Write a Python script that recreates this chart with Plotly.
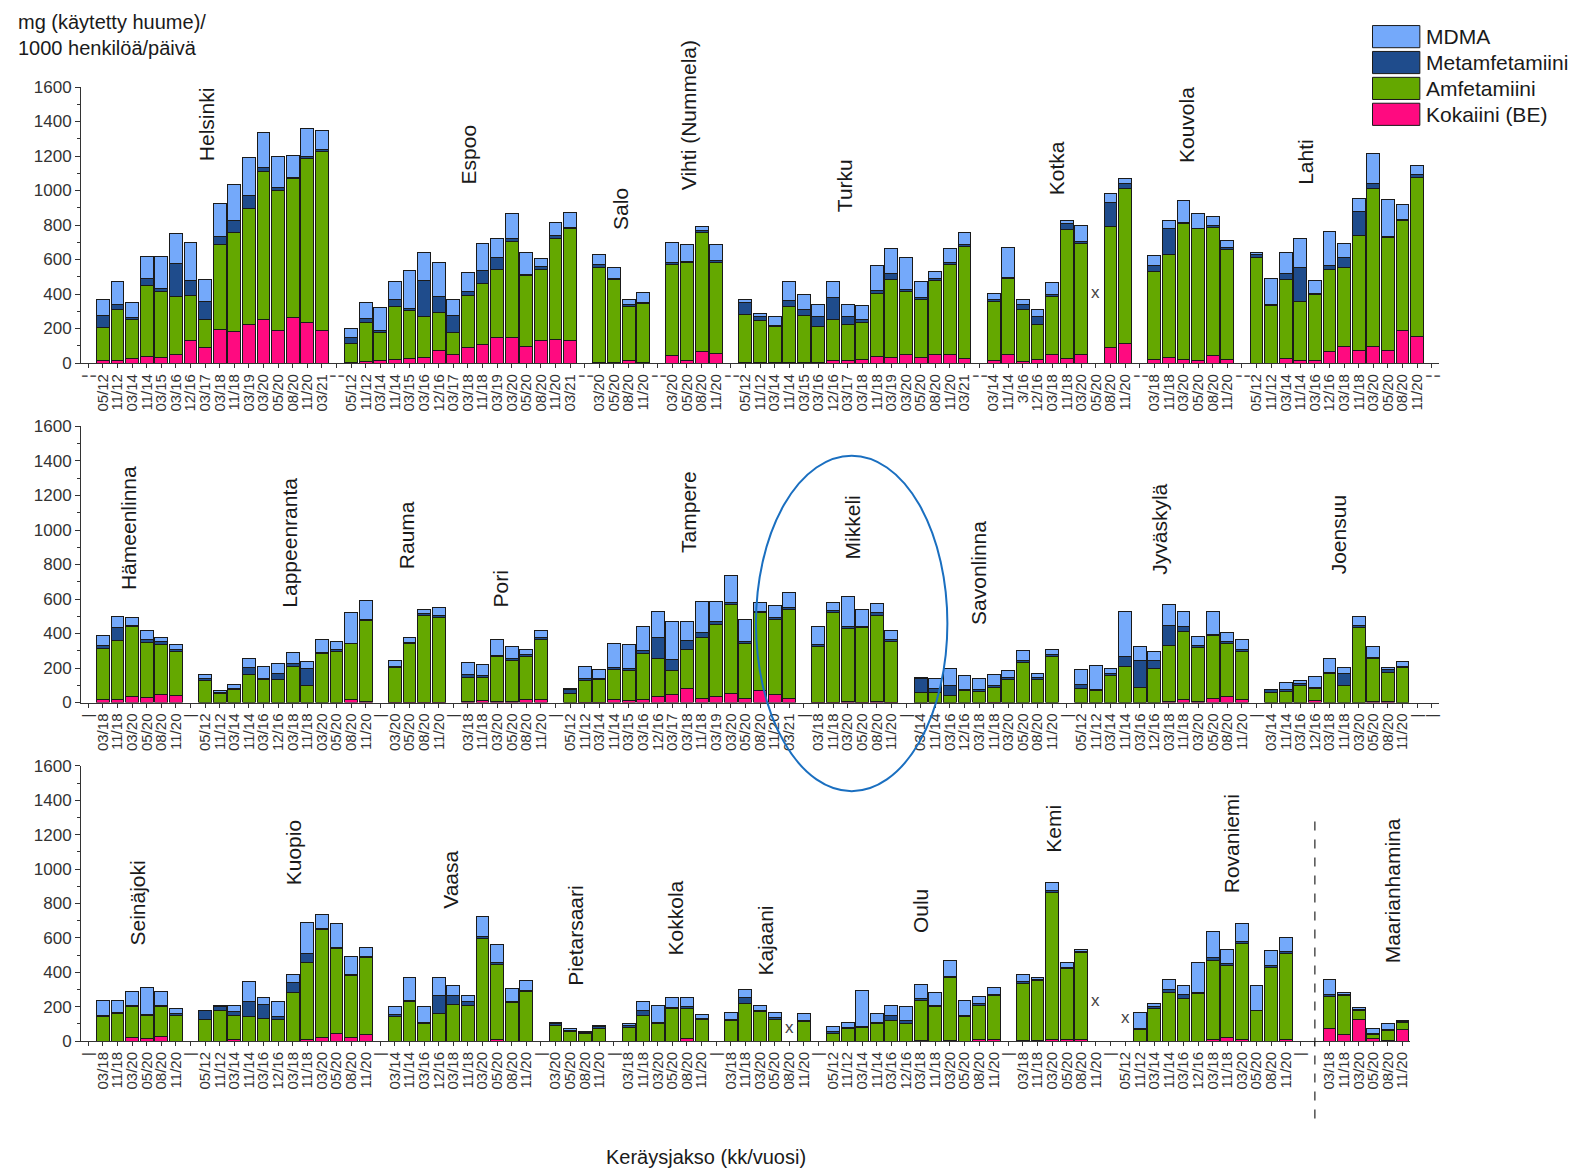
import plotly.graph_objects as go

# ---------------- period label sets ----------------
P16 = ["05/12", "11/12", "03/14", "11/14", "03/15", "03/16", "12/16", "03/17",
       "03/18", "11/18", "03/19", "03/20", "05/20", "08/20", "11/20", "03/21"]
P12 = ["05/12", "11/12", "03/14", "11/14", "03/16", "12/16", "03/18", "11/18",
       "03/20", "05/20", "08/20", "11/20"]
P10 = ["03/14", "11/14", "03/16", "12/16", "03/18", "11/18", "03/20", "05/20", "08/20", "11/20"]
P10_KOTKA = ["03/14", "11/14", "3/16", "12/16", "03/18", "11/18", "03/20", "05/20", "08/20", "11/20"]
P6 = ["03/18", "11/18", "03/20", "05/20", "08/20", "11/20"]
P4 = ["03/20", "05/20", "08/20", "11/20"]

# ---------------- values (mg / 1000 persons / day) ----------------
# Row 1
helsinki_kok = [15, 15, 25, 35, 30, 50, 130, 90, 195, 180, 225, 255, 190, 265, 235, 187]
helsinki_amf = [190, 295, 230, 415, 385, 335, 260, 160, 490, 577, 668, 855, 810, 805, 950, 1040]
helsinki_met = [70, 30, 10, 40, 15, 190, 90, 105, 50, 68, 77, 25, 20, 8, 12, 12]
helsinki_mdma = [95, 135, 85, 130, 190, 175, 220, 130, 190, 212, 224, 200, 180, 125, 162, 110]

espoo_kok = [5, 8, 17, 23, 27, 33, 71, 52, 91, 110, 149, 149, 95, 129, 135, 129]
espoo_amf = [110, 228, 161, 303, 276, 236, 223, 126, 299, 352, 396, 556, 411, 416, 589, 648]
espoo_met = [33, 25, 9, 45, 14, 208, 92, 96, 23, 77, 67, 14, 10, 13, 14, 9]
espoo_mdma = [52, 91, 136, 102, 222, 163, 197, 97, 109, 151, 112, 145, 122, 49, 77, 87]

salo_kok = [4, 4, 12, 4]
salo_amf = [547, 479, 315, 342]
salo_met = [19, 9, 15, 4]
salo_mdma = [59, 59, 24, 59]

vihti_kok = [45, 16, 64, 54]
vihti_amf = [529, 568, 695, 530]
vihti_met = [10, 6, 12, 11]
vihti_mdma = [116, 97, 19, 92]

turku_kok = [2, 2, 2, 4, 4, 2, 14, 14, 23, 39, 33, 48, 33, 52, 48, 29]
turku_amf = [282, 245, 207, 321, 270, 207, 241, 212, 213, 363, 454, 367, 334, 425, 526, 647]
turku_met = [68, 20, 7, 36, 35, 58, 122, 44, 19, 19, 31, 14, 14, 12, 9, 12]
turku_mdma = [15, 23, 54, 112, 91, 71, 96, 68, 77, 143, 145, 180, 89, 42, 80, 69]

kotka_kok = [14, 48, 10, 23, 48, 29, 48, None, 91, 116]
kotka_amf = [343, 441, 300, 203, 338, 744, 647, None, 701, 893]
kotka_met = [10, 9, 30, 41, 14, 38, 10, None, 139, 34]
kotka_mdma = [35, 172, 30, 46, 69, 14, 91, None, 54, 27]

kouvola_kok = [23, 33, 23, 14, 43, 19]
kouvola_amf = [508, 595, 785, 763, 743, 639]
kouvola_met = [33, 154, 7, 5, 12, 10]
kouvola_mdma = [58, 43, 128, 87, 52, 44]

lahti_kok = [0, 0, 29, 16, 16, 68, 97, 74, 97, 70, 187, 152]
lahti_amf = [609, 331, 457, 340, 379, 473, 454, 665, 915, 656, 640, 924]
lahti_met = [23, 6, 32, 195, 10, 23, 62, 137, 31, 6, 6, 14]
lahti_mdma = [6, 155, 120, 171, 72, 197, 78, 79, 169, 214, 84, 54]

# Row 2
hameenlinna_kok = [15, 15, 35, 31, 45, 41]
hameenlinna_amf = [301, 345, 403, 319, 290, 255]
hameenlinna_met = [13, 72, 9, 14, 19, 14]
hameenlinna_mdma = [58, 68, 43, 52, 24, 25]

lappeenranta_kok = [0, 0, 0, 0, 0, 0, 0, 0, 0, 0, 15, 6]
lappeenranta_amf = [126, 50, 74, 165, 132, 136, 209, 99, 287, 296, 326, 469]
lappeenranta_met = [11, 8, 9, 38, 5, 34, 16, 101, 5, 10, 4, 5]
lappeenranta_mdma = [24, 12, 20, 55, 72, 59, 67, 38, 72, 48, 174, 111]

rauma_kok = [3, 3, 3, 3]
rauma_amf = [202, 338, 501, 487]
rauma_met = [4, 8, 11, 14]
rauma_mdma = [35, 25, 23, 44]

pori_kok = [4, 10, 6, 4, 19, 15]
pori_amf = [141, 137, 261, 240, 248, 349]
pori_met = [16, 10, 6, 10, 10, 10]
pori_mdma = [71, 62, 91, 68, 29, 44]

tampere_kok = [0, 3, 3, 15, 12, 15, 35, 45, 83, 25, 35, 50, 25, 70, 45, 25]
tampere_amf = [50, 123, 133, 179, 174, 272, 223, 139, 223, 353, 416, 518, 320, 449, 439, 513]
tampere_met = [24, 11, 5, 9, 10, 13, 120, 64, 52, 25, 20, 9, 6, 8, 10, 10]
tampere_mdma = [9, 72, 49, 138, 139, 142, 147, 223, 113, 180, 112, 159, 133, 50, 70, 87]

mikkeli_kok = [2, 2, 5, 2, 6, 2]
mikkeli_amf = [320, 517, 423, 434, 498, 349]
mikkeli_met = [17, 16, 10, 6, 19, 13]
mikkeli_mdma = [99, 46, 178, 96, 50, 52]

savonlinna_kok = [0, 0, 0, 0, 0, 3, 0, 0, 0, 0]
savonlinna_amf = [60, 58, 41, 70, 64, 84, 136, 234, 136, 267]
savonlinna_met = [80, 25, 56, 7, 10, 12, 9, 10, 9, 10]
savonlinna_mdma = [3, 58, 103, 78, 64, 66, 39, 58, 22, 29]

jyvaskyla_kok = [0, 0, 0, 0, 0, 0, 5, 15, 6, 25, 35, 15]
jyvaskyla_amf = [79, 70, 157, 209, 87, 200, 326, 398, 314, 364, 306, 281]
jyvaskyla_met = [28, 4, 13, 58, 155, 44, 114, 29, 9, 8, 10, 14]
jyvaskyla_mdma = [87, 139, 30, 258, 80, 52, 123, 87, 51, 128, 56, 54]

joensuu_kok = [0, 0, 0, 12, 0, 0, 0, 4, 6, 0]
joensuu_amf = [60, 64, 97, 67, 167, 99, 436, 254, 170, 203]
joensuu_met = [14, 10, 11, 8, 9, 68, 9, 5, 18, 6]
joensuu_mdma = [3, 44, 20, 64, 82, 36, 55, 59, 9, 29]

# Row 3
seinajoki_kok = [0, 0, 19, 12, 25, 0]
seinajoki_amf = [141, 161, 181, 139, 175, 151]
seinajoki_met = [6, 6, 5, 6, 9, 10]
seinajoki_mdma = [87, 71, 82, 155, 78, 29]

kuopio_kok = [0, 0, 10, 0, 0, 0, 0, 10, 19, 45, 19, 39]
kuopio_amf = [128, 176, 141, 141, 132, 126, 281, 445, 630, 493, 361, 445]
kuopio_met = [48, 24, 19, 91, 83, 19, 60, 54, 6, 6, 4, 6]
kuopio_mdma = [4, 9, 35, 117, 39, 84, 46, 181, 83, 140, 110, 54]

vaasa_kok = [0, 0, 0, 0, 0, 0, 0, 10, 0, 0]
vaasa_amf = [141, 229, 103, 161, 215, 205, 597, 437, 223, 287]
vaasa_met = [16, 9, 5, 106, 48, 24, 9, 10, 9, 9]
vaasa_mdma = [43, 132, 92, 103, 57, 38, 120, 105, 74, 55]

pietarsaari_kok = [0, 0, 0, 0]
pietarsaari_amf = [89, 54, 45, 70]
pietarsaari_met = [10, 10, 3, 13]
pietarsaari_mdma = [9, 6, 6, 6]

kokkola_kok = [0, 0, 0, 0, 12, 0]
kokkola_amf = [77, 151, 103, 190, 178, 126]
kokkola_met = [16, 25, 5, 6, 10, 6]
kokkola_mdma = [10, 53, 101, 56, 52, 23]

kajaani_kok = [0, 0, 0, 0, None, 0]
kajaani_amf = [118, 219, 170, 126, None, 116]
kajaani_met = [10, 33, 10, 10, None, 6]
kajaani_mdma = [37, 50, 29, 31, None, 39]

oulu_kok = [0, 0, 0, 0, 0, 0, 5, 0, 5, 0, 8, 8]
oulu_amf = [45, 74, 77, 99, 118, 99, 233, 200, 363, 145, 201, 255]
oulu_met = [9, 5, 10, 9, 33, 23, 10, 5, 6, 6, 10, 10]
oulu_mdma = [33, 28, 204, 53, 58, 78, 81, 78, 93, 87, 39, 39]

kemi_kok = [5, 5, 10, 10, 8, None]
kemi_amf = [330, 345, 855, 410, 507, None]
kemi_met = [10, 8, 10, 10, 5, None]
kemi_mdma = [39, 12, 45, 25, 10, None]

rovaniemi_kok = [None, 0, 0, 0, 0, 0, 10, 20, 10, 0, 0, 8]
rovaniemi_amf = [None, 65, 190, 285, 250, 275, 460, 420, 555, 175, 430, 500]
rovaniemi_met = [None, 5, 8, 15, 20, 10, 15, 10, 15, 5, 10, 10]
rovaniemi_mdma = [None, 95, 20, 55, 50, 170, 150, 80, 105, 140, 85, 85]

maarianhamina_kok = [75, 40, 125, 15, 5, 65]
maarianhamina_amf = [185, 225, 55, 25, 55, 45]
maarianhamina_met = [10, 5, 5, 5, 5, 5]
maarianhamina_mdma = [85, 15, 10, 30, 35, 5]

# ---------------- structure ----------------
ROW1 = [("Helsinki", P16, helsinki_kok, helsinki_amf, helsinki_met, helsinki_mdma),
        ("Espoo", P16, espoo_kok, espoo_amf, espoo_met, espoo_mdma),
        ("Salo", P4, salo_kok, salo_amf, salo_met, salo_mdma),
        ("Vihti (Nummela)", P4, vihti_kok, vihti_amf, vihti_met, vihti_mdma),
        ("Turku", P16, turku_kok, turku_amf, turku_met, turku_mdma),
        ("Kotka", P10_KOTKA, kotka_kok, kotka_amf, kotka_met, kotka_mdma),
        ("Kouvola", P6, kouvola_kok, kouvola_amf, kouvola_met, kouvola_mdma),
        ("Lahti", P12, lahti_kok, lahti_amf, lahti_met, lahti_mdma)]
ROW2 = [("Hämeenlinna", P6, hameenlinna_kok, hameenlinna_amf, hameenlinna_met, hameenlinna_mdma),
        ("Lappeenranta", P12, lappeenranta_kok, lappeenranta_amf, lappeenranta_met, lappeenranta_mdma),
        ("Rauma", P4, rauma_kok, rauma_amf, rauma_met, rauma_mdma),
        ("Pori", P6, pori_kok, pori_amf, pori_met, pori_mdma),
        ("Tampere", P16, tampere_kok, tampere_amf, tampere_met, tampere_mdma),
        ("Mikkeli", P6, mikkeli_kok, mikkeli_amf, mikkeli_met, mikkeli_mdma),
        ("Savonlinna", P10, savonlinna_kok, savonlinna_amf, savonlinna_met, savonlinna_mdma),
        ("Jyväskylä", P12, jyvaskyla_kok, jyvaskyla_amf, jyvaskyla_met, jyvaskyla_mdma),
        ("Joensuu", P10, joensuu_kok, joensuu_amf, joensuu_met, joensuu_mdma)]
ROW3 = [("Seinäjoki", P6, seinajoki_kok, seinajoki_amf, seinajoki_met, seinajoki_mdma),
        ("Kuopio", P12, kuopio_kok, kuopio_amf, kuopio_met, kuopio_mdma),
        ("Vaasa", P10, vaasa_kok, vaasa_amf, vaasa_met, vaasa_mdma),
        ("Pietarsaari", P4, pietarsaari_kok, pietarsaari_amf, pietarsaari_met, pietarsaari_mdma),
        ("Kokkola", P6, kokkola_kok, kokkola_amf, kokkola_met, kokkola_mdma),
        ("Kajaani", P6, kajaani_kok, kajaani_amf, kajaani_met, kajaani_mdma),
        ("Oulu", P12, oulu_kok, oulu_amf, oulu_met, oulu_mdma),
        ("Kemi", P6, kemi_kok, kemi_amf, kemi_met, kemi_mdma),
        ("Rovaniemi", P12, rovaniemi_kok, rovaniemi_amf, rovaniemi_met, rovaniemi_mdma),
        ("Maarianhamina", P6, maarianhamina_kok, maarianhamina_amf, maarianhamina_met, maarianhamina_mdma)]

SERIES = ["Kokaiini (BE)", "Amfetamiini", "Metamfetamiini", "MDMA"]
COLORS = {"Kokaiini (BE)": "#ff0a80", "Amfetamiini": "#64a800",
          "Metamfetamiini": "#1f4c8c", "MDMA": "#74a9fa"}

# city label layout (x in slot units, bottom of text in data units)
LABELS = [
    [8.1, 26.05, 36.4, 41.1, 51.8, 66.3, 75.2, 83.4],
    [2.74, 13.8, 21.8, 28.2, 41.1, 52.3, 61.0, 73.3, 85.6],
    [3.36, 14.05, 24.8, 33.4, 40.2, 46.4, 57.0, 66.1, 78.3, 89.3],
]
LABEL_Y = [
    [1156, 1022, 759, 993, 864, 963, 1150, 1022],
    [642, 537, 759, 537, 858, 818, 438, 730, 730],
    [543, 894, 760, 310, 485, 368, 614, 1081, 849, 439],
]
MISSING_Y = {"Kotka": 409, "Kajaani": 76, "Kemi": 234, "Rovaniemi": 134}


def build_row(r, groups, sep_label, trailing, before_last=0):
    cats, texts = [], []
    vals = {s: [] for s in SERIES}
    missing = []
    n = 0
    for gi, (city, periods, kok, amf, met, mdma) in enumerate(groups):
        nsep = 1 + (before_last if gi == len(groups) - 1 else 0)
        for j in range(nsep):
            cats.append(f"sep{r}_{n}")
            texts.append(sep_label if j == 0 else "")
            for s in SERIES:
                vals[s].append(None)
            n += 1
        for p, a, b, c, d in zip(periods, kok, amf, met, mdma):
            cname = f"{city} {p}"
            cats.append(cname)
            texts.append(p)
            vals["Kokaiini (BE)"].append(a)
            vals["Amfetamiini"].append(b)
            vals["Metamfetamiini"].append(c)
            vals["MDMA"].append(d)
            if a is None and b is None:
                missing.append((city, cname))
    for j in range(trailing):
        cats.append(f"sep{r}_{n}")
        texts.append(sep_label)
        for s in SERIES:
            vals[s].append(None)
        n += 1
    return cats, texts, vals, missing


rows = [build_row(1, ROW1, "¦", 1), build_row(2, ROW2, "|", 2), build_row(3, ROW3, "|", 0, before_last=1)]
all_groups = [ROW1, ROW2, ROW3]

fig = go.Figure()
FONT = "Liberation Sans, Arial, sans-serif"


# map a reference-image pixel to a figure pixel (page offset + capture scale)
def f(r):
    return (r - 8) / 0.992


W, H = 1575, 1165
L, R, T, B = f(80), f(1428), f(86), f(1033)
PW, PH = R - L, B - T
row_px = [(f(86), f(360)), (f(423), f(697)), (f(760), f(1033))]


def px(xr):
    return (f(xr) - L) / PW


def py(yr):
    return (B - f(yr)) / PH


annotations = []
shapes = []
NSLOT = 93

for i, (cats, texts, vals, missing) in enumerate(rows):
    xa = "x" if i == 0 else f"x{i+1}"
    ya = "y" if i == 0 else f"y{i+1}"
    for s in SERIES:
        fig.add_trace(go.Bar(x=cats, y=vals[s], name=s, xaxis=xa, yaxis=ya,
                             marker=dict(color=COLORS[s], line=dict(color="#1a1a1a", width=1)),
                             showlegend=False, legendgroup=s))
    top, bot = row_px[i]
    dom_y = [(B - bot) / PH, (B - top) / PH]
    nslot = len(cats)
    dom_x = [0, nslot / NSLOT]
    axis_x = dict(domain=dom_x, type="category", categoryorder="array", categoryarray=cats,
                  tickmode="array", tickvals=cats, ticktext=texts, tickangle=-90,
                  tickfont=dict(size=15, color="#333", family=FONT),
                  ticks="outside", ticklen=4, tickcolor="#333",
                  showline=True, linecolor="#333", linewidth=1, showgrid=False,
                  range=[-0.5, nslot - 0.5], anchor=ya, fixedrange=True)
    axis_y = dict(domain=dom_y, range=[0, 1600], dtick=200, tick0=0,
                  tickfont=dict(size=17, color="#333", family=FONT),
                  ticks="outside", ticklen=5, tickcolor="#333",
                  minor=dict(dtick=100, ticks="outside", ticklen=3, tickcolor="#333"),
                  showline=True, linecolor="#333", linewidth=1, showgrid=False,
                  zeroline=False, anchor=xa)
    fig.update_layout(**{("xaxis" if i == 0 else f"xaxis{i+1}"): axis_x,
                         ("yaxis" if i == 0 else f"yaxis{i+1}"): axis_y})
    # city labels
    for (city, *_), lx, ly in zip(all_groups[i], LABELS[i], LABEL_Y[i]):
        annotations.append(dict(x=lx, y=ly, xref=xa, yref=ya, text=city, textangle=-90,
                                showarrow=False, xanchor="center", yanchor="bottom",
                                font=dict(size=21, color="#1a1a1a", family=FONT)))
    # missing-sample markers
    for city, cname in missing:
        annotations.append(dict(x=cname, y=MISSING_Y[city], xref=xa, yref=ya, text="x",
                                showarrow=False, font=dict(size=17, color="#444", family=FONT)))

# axis titles
annotations.append(dict(x=px(15), y=(B - 1) / PH, xref="paper", yref="paper",
                        text="mg (käytetty huume)/<br>1000 henkilöä/päivä", showarrow=False,
                        xanchor="left", yanchor="top", align="left",
                        font=dict(size=20, color="#1a1a1a", family=FONT)))
annotations.append(dict(x=px(700), y=py(1148), xref="paper", yref="paper",
                        text="Keräysjakso (kk/vuosi)", showarrow=False,
                        xanchor="center", yanchor="middle",
                        font=dict(size=20, color="#1a1a1a", family=FONT)))

# legend (drawn manually to match the large swatches)
leg_items = ["MDMA", "Metamfetamiini", "Amfetamiini", "Kokaiini (BE)"]
for k, s in enumerate(leg_items):
    y0p = 25 + k * 25.7
    y1p = y0p + 22
    shapes.append(dict(type="rect", xref="paper", yref="paper",
                       x0=px(1362), x1=px(1409), y0=py(y1p), y1=py(y0p),
                       fillcolor=COLORS[s], line=dict(color="#1a1a1a", width=1)))
    annotations.append(dict(x=px(1413), y=py(y0p + 11), xref="paper", yref="paper",
                            text=s, showarrow=False, xanchor="left", yanchor="middle",
                            font=dict(size=21, color="#1a1a1a", family=FONT)))

# highlight ellipse around Mikkeli
shapes.append(dict(type="circle", xref="paper", yref="paper",
                   x0=px(750), x1=px(940), y0=py(785), y1=py(452),
                   line=dict(color="#1a6fc0", width=2)))
# dashed separator before Maarianhamina
shapes.append(dict(type="line", xref="x3", yref="paper", x0=84, x1=84,
                   y0=py(1110), y1=py(812),
                   line=dict(color="#222", width=1.2, dash="dash")))

fig.update_layout(width=W, height=H, barmode="stack", bargap=0.12,
                  margin=dict(l=L, r=W - R, t=T, b=H - B),
                  paper_bgcolor="white", plot_bgcolor="white",
                  showlegend=False, annotations=annotations, shapes=shapes,
                  font=dict(family=FONT))

fig.write_html("out.html")
